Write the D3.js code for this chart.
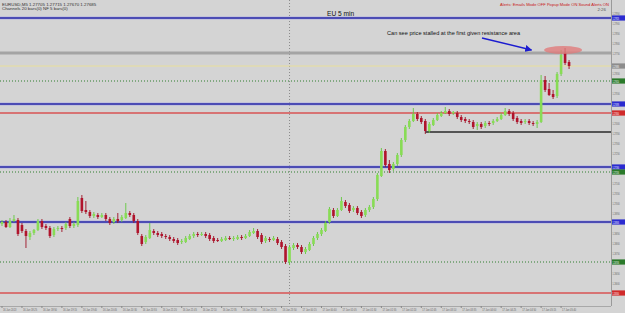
<!DOCTYPE html>
<html>
<head>
<meta charset="utf-8">
<script src="https://cdn.jsdelivr.net/npm/d3@7"></script>
<style>
  body { margin: 0; background: #d4d4d4; overflow: hidden; }
  svg { display: block; font-family: "Liberation Sans", Arial, sans-serif; }
</style>
</head>
<body>
<div id="canvas"></div>
<script>
// EURUSD M5 candles
const opens = [1.26895,1.26905,1.26880,1.26910,1.26915,1.26890,1.26860,1.26830,1.26850,1.26865,
1.26910,1.26885,1.26875,1.26840,1.26870,1.26875,1.26875,1.26920,1.26885,1.26890,
1.27025,1.26965,1.26955,1.26935,1.26940,1.26930,1.26940,1.26920,1.26905,1.26920,
1.26915,1.26925,1.26950,1.26940,1.26910,1.26835,1.26805,1.26825,1.26860,1.26850,
1.26845,1.26835,1.26830,1.26820,1.26815,1.26805,1.26805,1.26820,1.26835,1.26845,
1.26840,1.26845,1.26840,1.26825,1.26815,1.26810,1.26815,1.26825,1.26820,1.26820,
1.26830,1.26825,1.26835,1.26850,1.26860,1.26840,1.26810,1.26820,1.26815,1.26820,
1.26805,1.26785,1.26705,1.26775,1.26790,1.26780,1.26755,1.26765,1.26795,1.26825,
1.26845,1.26860,1.26905,1.26965,1.26935,1.26965,1.27005,1.26990,1.26965,1.26975,
1.26955,1.26940,1.26965,1.26980,1.27020,1.27135,1.27260,1.27195,1.27170,1.27195,
1.27240,1.27315,1.27380,1.27410,1.27445,1.27425,1.27410,1.27360,1.27390,1.27415,
1.27435,1.27450,1.27460,1.27450,1.27450,1.27430,1.27420,1.27410,1.27405,1.27385,
1.27395,1.27385,1.27400,1.27400,1.27410,1.27420,1.27440,1.27460,1.27450,1.27425,
1.27410,1.27405,1.27410,1.27400,1.27395,1.27405,1.27615,1.27570,1.27545,1.27535,
1.27645,1.27750,1.27705];

const highs = [1.26915,1.26915,1.26925,1.26940,1.26925,1.26900,1.26870,1.26860,1.26870,1.26920,
1.26920,1.26895,1.26885,1.26880,1.26885,1.26885,1.26905,1.26930,1.26905,1.27030,
1.27040,1.27010,1.26965,1.26955,1.26950,1.26950,1.26950,1.26930,1.26930,1.26950,
1.26940,1.27000,1.26960,1.26950,1.26920,1.26845,1.26840,1.26900,1.26870,1.26860,
1.26855,1.26845,1.26840,1.26830,1.26825,1.26820,1.26835,1.26845,1.26855,1.26855,
1.26855,1.26855,1.26850,1.26835,1.26825,1.26830,1.26835,1.26835,1.26835,1.26840,
1.26840,1.26845,1.26865,1.26875,1.26870,1.26850,1.26835,1.26830,1.26835,1.26830,
1.26815,1.26795,1.26790,1.26800,1.26800,1.26790,1.26780,1.26805,1.26835,1.26855,
1.26875,1.26910,1.26980,1.26975,1.26975,1.27030,1.27015,1.27000,1.26985,1.26985,
1.26965,1.26975,1.26990,1.27030,1.27150,1.27275,1.27270,1.27215,1.27205,1.27250,
1.27325,1.27390,1.27420,1.27475,1.27455,1.27435,1.27420,1.27405,1.27425,1.27450,
1.27460,1.27480,1.27470,1.27460,1.27460,1.27440,1.27430,1.27420,1.27415,1.27405,
1.27405,1.27410,1.27410,1.27420,1.27430,1.27450,1.27475,1.27470,1.27460,1.27435,
1.27420,1.27420,1.27420,1.27410,1.27415,1.27640,1.27635,1.27600,1.27565,1.27655,
1.27765,1.27775,1.27715];

const lows = [1.26885,1.26875,1.26875,1.26905,1.26835,1.26850,1.26775,1.26815,1.26840,1.26860,
1.26870,1.26865,1.26825,1.26830,1.26860,1.26855,1.26865,1.26875,1.26875,1.26880,
1.26950,1.26945,1.26925,1.26925,1.26920,1.26925,1.26910,1.26890,1.26895,1.26900,
1.26905,1.26920,1.26930,1.26900,1.26840,1.26785,1.26795,1.26820,1.26840,1.26830,
1.26825,1.26820,1.26810,1.26800,1.26790,1.26795,1.26800,1.26815,1.26825,1.26830,
1.26835,1.26825,1.26810,1.26800,1.26805,1.26805,1.26810,1.26815,1.26810,1.26815,
1.26815,1.26820,1.26830,1.26845,1.26820,1.26795,1.26800,1.26805,1.26810,1.26790,
1.26770,1.26695,1.26690,1.26765,1.26770,1.26745,1.26745,1.26760,1.26785,1.26815,
1.26835,1.26855,1.26895,1.26925,1.26930,1.26960,1.26975,1.26950,1.26955,1.26940,
1.26925,1.26930,1.26955,1.26970,1.27010,1.27130,1.27180,1.27150,1.27160,1.27185,
1.27230,1.27305,1.27370,1.27405,1.27410,1.27395,1.27345,1.27350,1.27385,1.27410,
1.27430,1.27445,1.27435,1.27440,1.27420,1.27405,1.27400,1.27395,1.27370,1.27365,
1.27370,1.27375,1.27385,1.27390,1.27405,1.27415,1.27435,1.27435,1.27410,1.27395,
1.27390,1.27395,1.27390,1.27385,1.27375,1.27400,1.27555,1.27535,1.27520,1.27525,
1.27635,1.27690,1.27670];

const closes = [1.26905,1.26880,1.26910,1.26920,1.26845,1.26860,1.26835,1.26850,1.26865,1.26910,
1.26880,1.26875,1.26835,1.26870,1.26875,1.26870,1.26895,1.26885,1.26895,1.27010,
1.26960,1.26955,1.26935,1.26945,1.26930,1.26940,1.26920,1.26900,1.26920,1.26910,
1.26930,1.26950,1.26940,1.26910,1.26850,1.26795,1.26830,1.26865,1.26850,1.26840,
1.26835,1.26830,1.26820,1.26810,1.26800,1.26810,1.26825,1.26835,1.26845,1.26840,
1.26845,1.26835,1.26820,1.26810,1.26810,1.26820,1.26825,1.26820,1.26825,1.26830,
1.26825,1.26835,1.26855,1.26860,1.26830,1.26805,1.26825,1.26815,1.26825,1.26800,
1.26780,1.26705,1.26780,1.26790,1.26780,1.26755,1.26770,1.26795,1.26825,1.26845,
1.26865,1.26900,1.26970,1.26935,1.26965,1.27010,1.26985,1.26960,1.26975,1.26950,
1.26935,1.26965,1.26980,1.27020,1.27140,1.27260,1.27190,1.27165,1.27195,1.27240,
1.27315,1.27380,1.27410,1.27445,1.27420,1.27405,1.27360,1.27395,1.27415,1.27440,
1.27450,1.27460,1.27445,1.27455,1.27430,1.27415,1.27410,1.27405,1.27380,1.27395,
1.27380,1.27400,1.27395,1.27410,1.27420,1.27440,1.27460,1.27445,1.27420,1.27405,
1.27400,1.27410,1.27400,1.27395,1.27405,1.27615,1.27565,1.27540,1.27530,1.27645,
1.27740,1.27700,1.27685];

// horizontal levels drawn on the chart
const blueLevels = [1.27925, 1.27495, 1.27180, 1.26905];
const redLevels = [1.27450, 1.26550];
const greenDotLevels = [1.27610, 1.27155, 1.26705];
const grayLevel = 1.27750;
const bidLevel = 1.27685;
const supportLevel = 1.27355;
const supportFrom = 106; // bar where the black line starts
const daySeparator = 72; // 17 Jan 00:00

const priceTicks = [1.2795,1.2790,1.2785,1.2780,1.2775,1.2770,1.2765,1.2760,1.2755,1.2750,
1.2745,1.2740,1.2735,1.2730,1.2725,1.2720,1.2715,1.2710,1.2705,1.2700,
1.2695,1.2690,1.2685,1.2680,1.2675,1.2670,1.2665,1.2660,1.2655];

const timeLabels = ["16 Jan 2013","16 Jan 18:25","16 Jan 18:50","16 Jan 19:15","16 Jan 19:40",
"16 Jan 20:05","16 Jan 20:30","16 Jan 20:55","16 Jan 21:20","16 Jan 21:45","16 Jan 22:10",
"16 Jan 22:35","16 Jan 23:00","16 Jan 23:25","16 Jan 23:50","17 Jan 00:15","17 Jan 00:40",
"17 Jan 01:05","17 Jan 01:30","17 Jan 01:55","17 Jan 02:20","17 Jan 02:45","17 Jan 03:10",
"17 Jan 03:35","17 Jan 04:00","17 Jan 04:25","17 Jan 04:50","17 Jan 05:15","17 Jan 05:40"];
const barsPerLabel = 5;

const canvas = d3.select("#canvas");

const drawChart = () => {
  const width = 625;
  const height = 313;
  const plot = { left: 0, right: 611, top: 0, bottom: 306 };
  const shift = 10; // empty bars on the right side

  const svg = canvas.append("svg").attr("width", width).attr("height", height);
  svg.append("rect").attr("width", width).attr("height", height).attr("fill", "#d4d4d4");

  const n = closes.length;
  const x = d3.scaleLinear().domain([-0.5, n - 0.5 + shift]).range([plot.left, plot.right]);
  const y = d3.scaleLinear().domain([1.265, 1.28]).range([303, 3]);
  const fmt = d3.format(".5f");

  const defs = svg.append("defs");
  defs.append("marker")
    .attr("id", "arrow")
    .attr("viewBox", "0 0 10 10")
    .attr("refX", 9).attr("refY", 5)
    .attr("markerWidth", 5).attr("markerHeight", 5)
    .attr("orient", "auto")
    .append("path").attr("d", "M0,0L10,5L0,10z").attr("fill", "#1c1cd0");

  // day separator
  svg.append("line")
    .attr("x1", x(daySeparator)).attr("x2", x(daySeparator))
    .attr("y1", plot.top).attr("y2", plot.bottom)
    .attr("stroke", "#8a8a8a").attr("stroke-dasharray", "1,2");

  // levels
  const lv = svg.append("g");
  const hline = (p, color, w, dash) =>
    lv.append("line")
      .attr("x1", plot.left).attr("x2", plot.right)
      .attr("y1", y(p)).attr("y2", y(p))
      .attr("stroke", color).attr("stroke-width", w)
      .attr("stroke-dasharray", dash || null);

  hline(grayLevel, "#a4a4a4", 3.2);
  hline(bidLevel, "#e9df9a", 1);
  greenDotLevels.forEach((p) => hline(p, "#2f7f2f", 1, "1,2"));
  redLevels.forEach((p) => { hline(p, "#e2b2b2", 2); hline(p, "#cc3434", 1); });
  blueLevels.forEach((p) => { hline(p, "#b2b2e2", 3); hline(p, "#2a2aa4", 1.3); });

  lv.append("line")
    .attr("x1", x(supportFrom)).attr("x2", plot.right)
    .attr("y1", y(supportLevel)).attr("y2", y(supportLevel))
    .attr("stroke", "#2a2a2a").attr("stroke-width", 1.3);

  // candles
  const candles = d3.range(n).map((i) => ({ i, o: opens[i], h: highs[i], l: lows[i], c: closes[i] }));
  const up = (d) => d.c >= d.o;
  const g = svg.append("g");

  g.selectAll("line.wick").data(candles).join("line")
    .attr("class", "wick")
    .attr("x1", (d) => x(d.i)).attr("x2", (d) => x(d.i))
    .attr("y1", (d) => y(d.h)).attr("y2", (d) => y(d.l))
    .attr("stroke", (d) => (up(d) ? "#63c83e" : "#9e1226"))
    .attr("stroke-width", 0.9);

  g.selectAll("rect.body").data(candles).join("rect")
    .attr("class", "body")
    .attr("x", (d) => x(d.i) - 1.3)
    .attr("width", 2.6)
    .attr("y", (d) => y(Math.max(d.o, d.c)))
    .attr("height", (d) => Math.max(1, Math.abs(y(d.o) - y(d.c))))
    .attr("fill", (d) => (up(d) ? "#88dc55" : "#b0142c"));

  // plot border
  svg.append("line").attr("x1", plot.right + 0.5).attr("x2", plot.right + 0.5)
    .attr("y1", 0).attr("y2", plot.bottom).attr("stroke", "#9a9a9a");
  svg.append("line").attr("x1", 0).attr("x2", plot.right)
    .attr("y1", plot.bottom + 0.5).attr("y2", plot.bottom + 0.5).attr("stroke", "#a8a8a8");

  // narrow text: squeeze horizontally so it fits the thin strips of the screenshot
  const squeezed = (sel, tx, ty, sx, size, fill, label) =>
    sel.append("text")
      .attr("transform", `translate(${tx},${ty}) scale(${sx},1)`)
      .attr("font-size", size).attr("fill", fill)
      .text(label);

  // price axis (tags hide the tick labels under them)
  const tagged = [...blueLevels, ...redLevels, ...greenDotLevels, bidLevel].map((p) => y(p));
  const freeTicks = priceTicks.filter((p) => tagged.every((t) => Math.abs(y(p) - t) > 5));
  const ax = svg.append("g");
  freeTicks.forEach((p) => squeezed(ax, plot.right + 1.5, y(p) + 1.5, 0.45, 4.4, "#666", fmt(p)));

  const tag = (p, color) => {
    svg.append("rect").attr("x", plot.right + 1).attr("y", y(p) - 2.6)
      .attr("width", 13).attr("height", 5.2).attr("fill", color);
    squeezed(svg, plot.right + 1.5, y(p) + 1.5, 0.43, 4.2, "#fff", fmt(p));
  };
  blueLevels.forEach((p) => tag(p, "#2b2bd0"));
  redLevels.forEach((p) => tag(p, "#d02a2a"));
  greenDotLevels.forEach((p) => tag(p, "#2a7a2a"));
  tag(bidLevel, "#8c8c8c");

  // time axis
  const tx = svg.append("g");
  timeLabels.forEach((lab, k) => {
    const xi = x(k * barsPerLabel);
    tx.append("line").attr("x1", xi).attr("x2", xi)
      .attr("y1", plot.bottom).attr("y2", plot.bottom + 2).attr("stroke", "#888");
    squeezed(tx, xi + 1, 311, 0.58, 4.2, "#666", lab);
  });

  // header texts
  svg.append("text").attr("x", 2).attr("y", 5.5).attr("font-size", 4.4).attr("fill", "#333")
    .text("EURUSD,M5  1.27705 1.27715 1.27670 1.27685");
  svg.append("text").attr("x", 2).attr("y", 10).attr("font-size", 4.4).attr("fill", "#333")
    .text("Channels 20 bars(0) NF 5 bars(0)");
  svg.append("text").attr("x", 609).attr("y", 5.5).attr("text-anchor", "end")
    .attr("font-size", 4.1).attr("fill", "#c81818")
    .text("Alerts:  Emails Mode OFF   Popup Mode ON   Sound Alerts ON");
  svg.append("text").attr("x", 606).attr("y", 11).attr("text-anchor", "end")
    .attr("font-size", 4.4).attr("fill", "#555").text("2:26");

  // annotations
  svg.append("text").attr("x", 327).attr("y", 15.5).attr("font-size", 6.6).attr("fill", "#111")
    .text("EU 5 min");
  svg.append("text").attr("x", 387).attr("y", 35).attr("font-size", 5.6).attr("fill", "#111")
    .text("Can see price stalled at the first given resistance area");
  svg.append("line")
    .attr("x1", x(120.2)).attr("y1", y(1.27825))
    .attr("x2", x(132.6)).attr("y2", y(1.27765))
    .attr("stroke", "#1c1cd0").attr("stroke-width", 1.4)
    .attr("marker-end", "url(#arrow)");
  svg.append("ellipse")
    .attr("cx", x(140.5)).attr("cy", y(1.27765))
    .attr("rx", 19).attr("ry", 4)
    .attr("fill", "#e07a7a").attr("opacity", 0.8);
};

drawChart();
</script>
</body>
</html>
